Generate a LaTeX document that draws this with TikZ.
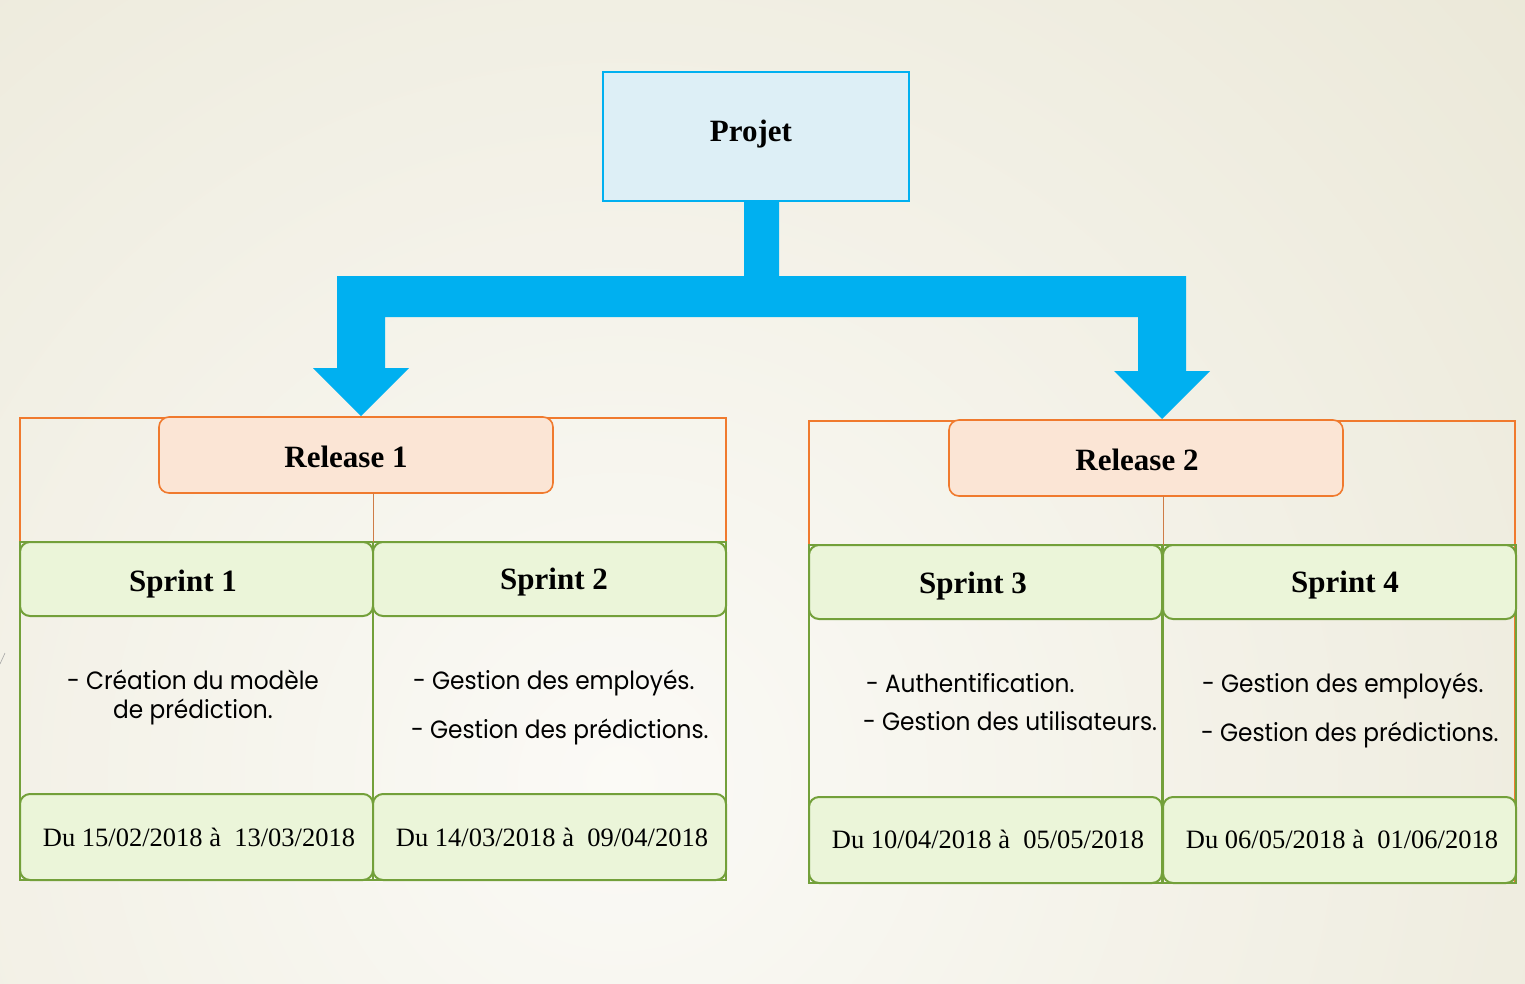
\documentclass[tikz,border=0pt]{standalone}
\usepackage{fontspec}
\setmainfont{Liberation Serif}
\newfontfamily\gothic[FakeStretch=0.93]{Poppins}
\usetikzlibrary{calc}
\definecolor{bgin}{HTML}{FBFAF6}
\definecolor{bgout}{HTML}{E0DCC4}
\definecolor{cyanB}{HTML}{00B0F0}
\definecolor{projfill}{HTML}{DDEFF6}
\definecolor{orangeB}{HTML}{F07A2E}
\definecolor{relfill}{HTML}{FBE5D5}
\definecolor{greenB}{HTML}{73A03A}
\definecolor{greenfill}{HTML}{EBF5D9}
\tikzset{
  every node/.style={outer sep=0pt},
  projbox/.style={draw=cyanB, line width=2pt, fill=projfill, minimum width=306pt, minimum height=129pt, inner sep=0pt, anchor=north west},
  relbox/.style={draw=orangeB, line width=1.6pt, fill=relfill, rounded corners=10pt, minimum width=394pt, minimum height=76pt, inner sep=0pt, anchor=north west},
  frame/.style={draw=orangeB, line width=2pt, minimum width=706pt, minimum height=462pt, inner sep=0pt, anchor=north west},
  colbox/.style={draw=greenB, line width=2pt, minimum width=353pt, minimum height=338pt, inner sep=0pt, anchor=north west},
  hdrbox/.style={draw=greenB, line width=2pt, fill=greenfill, rounded corners=10pt, minimum width=353pt, minimum height=74pt, inner sep=0pt, anchor=north west},
  datebox/.style={draw=greenB, line width=2pt, fill=greenfill, rounded corners=10pt, minimum width=353pt, minimum height=86pt, inner sep=0pt, anchor=north west},
  heading/.style={font=\fontsize{31}{37}\selectfont\bfseries, inner sep=0pt, anchor=base},
  datetext/.style={font=\fontsize{26.5}{30}\selectfont, inner sep=0pt, anchor=base},
  bodytext/.style={font=\gothic\fontsize{25}{30}\selectfont, inner sep=0pt, anchor=base west},
  bodyc/.style={font=\gothic\fontsize{25}{30}\selectfont, inner sep=0pt, anchor=base},
  thinlink/.style={draw=orangeB!70!gray, line width=0.8pt},
}
\begin{document}
\begin{tikzpicture}[x=1pt,y=-1pt]
\useasboundingbox (0,0) rectangle (1525,983);
% background
\begin{scope}
  \clip (0,0) rectangle (1525,983);
  \fill[bgout] (0,0) rectangle (1525,983);
  \shade[inner color=bgin, outer color=bgout] (620,780) circle (2050pt);
\end{scope}
\draw[gray!70, line width=0.6pt] (0,664) -- (5,653);

% top
\node[projbox] (projet) at (603,72) {};
\node[heading] (tprojet) at (751,141) {Projet};

% big arrow
\coordinate (stemL) at (744,276);
\coordinate (stemR) at (779,276);
\fill[cyanB] (stemL |- projet.south) -- (stemR |- projet.south) -- (stemR) -- (1186,276) -- (1186,371) -- (1210,371) -- (1162,419) -- (1114,371) -- (1138,371) -- (1138,317) -- (385,317) -- (385,368) -- (409,368) -- (361,416) -- (313,368) -- (337,368) -- (337,276) -- (stemL) -- cycle;

% Release 1
\node[frame] (frame1) at (20,418) {};
\node[colbox] (col1) at (20,542) {};
\node[colbox] (col2) at (373,542) {};
\node[relbox] (rel1) at (159,417) {};
\coordinate (r1split) at (373,542);
\draw[thinlink] (rel1.south -| r1split) -- (r1split);
\node[hdrbox] (s1) at (20,542) {};
\node[hdrbox] (s2) at (373,542) {};
\node[datebox] (d1) at (20,794) {};
\node[datebox] (d2) at (373,794) {};
\node[heading] (trel1) at (346,467) {Release 1};
\node[heading] (ts1) at (183,591) {Sprint 1};
\node[heading] (ts2) at (554,589) {Sprint 2};
\node[bodyc] (b1a) at (193,689) {- Création du modèle};
\node[bodyc] (b1b) at (193,718) {de prédiction.};
\node[bodytext] (b2a) at (413,689) {- Gestion des employés.};
\node[bodytext] (b2b) at (411,738) {- Gestion des prédictions.};
\node[datetext] (td1) at (199,846) {Du 15/02/2018 à\ \ 13/03/2018};
\node[datetext] (td2) at (552,846) {Du 14/03/2018 à\ \ 09/04/2018};

% Release 2
\node[frame] (frame2) at (809,421) {};
\node[colbox] (col3) at (809,545) {};
\node[colbox] (col4) at (1163,545) {};
\node[relbox] (rel2) at (949,420) {};
\coordinate (r2split) at (1163,545);
\draw[thinlink] (rel2.south -| r2split) -- (r2split);
\node[hdrbox] (s3) at (809,545) {};
\node[hdrbox] (s4) at (1163,545) {};
\node[datebox] (d3) at (809,797) {};
\node[datebox] (d4) at (1163,797) {};
\node[heading] (trel2) at (1137,470) {Release 2};
\node[heading] (ts3) at (973,593) {Sprint 3};
\node[heading] (ts4) at (1345,592) {Sprint 4};
\node[bodytext] (b3a) at (866,692) {- Authentification.};
\node[bodytext] (b3b) at (863,730) {- Gestion des utilisateurs.};
\node[bodytext] (b4a) at (1202,692) {- Gestion des employés.};
\node[bodytext] (b4b) at (1201,741) {- Gestion des prédictions.};
\node[datetext] (td3) at (988,848) {Du 10/04/2018 à\ \ 05/05/2018};
\node[datetext] (td4) at (1342,848) {Du 06/05/2018 à\ \ 01/06/2018};
\end{tikzpicture}
\end{document}
